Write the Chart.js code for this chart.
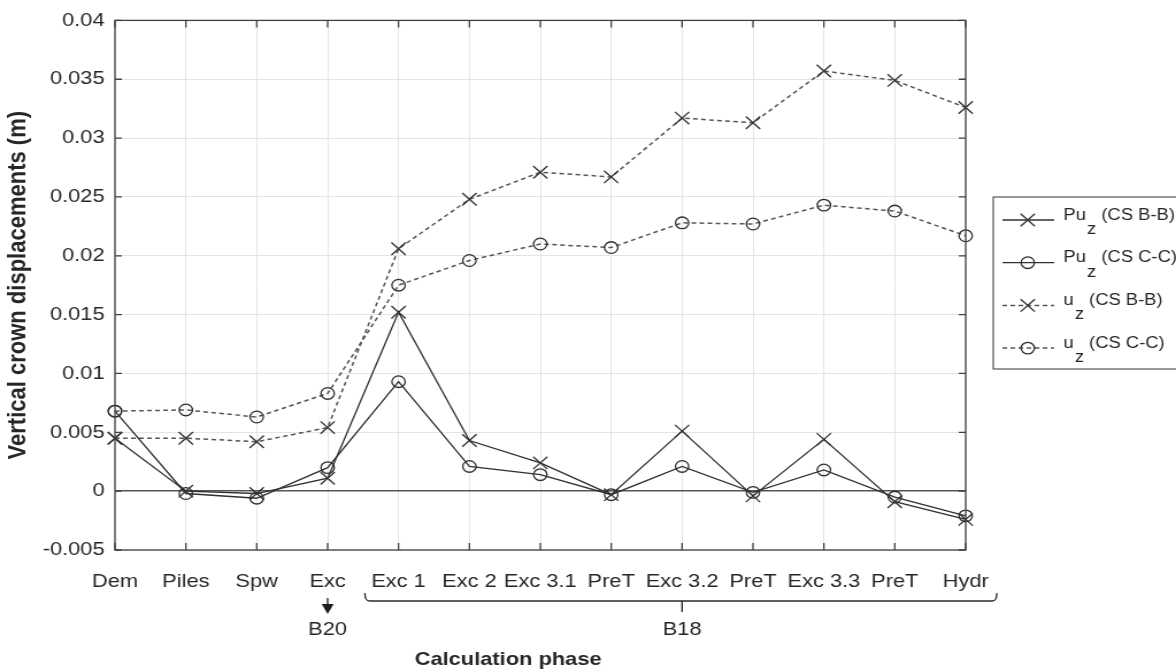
<!DOCTYPE html>
<html lang="en">
<head>
    <meta charset="UTF-8">
    <title>Vertical crown displacements</title>
    <script src="https://cdn.jsdelivr.net/npm/chart.js"></script>
    <style>
        body { margin: 0; background: #fff; overflow: hidden; }
        /* the reference figure is stretched horizontally, so draw narrower and scale */
        #wrap { width: 1023px; height: 669px; transform: scaleX(1.1496); transform-origin: 0 0; }
    </style>
</head>
<body>
    <div id="wrap">
        <canvas id="crownChart" width="1023" height="669"></canvas>
    </div>

    <script>
        const phases = ['Dem', 'Piles', 'Spw', 'Exc', 'Exc 1', 'Exc 2', 'Exc 3.1', 'PreT', 'Exc 3.2', 'PreT', 'Exc 3.3', 'PreT', 'Hydr'];

        const puzBB = [0.0045, 0.0000, -0.0002, 0.0011, 0.0152, 0.0043, 0.0024, -0.0003, 0.0051, -0.0004, 0.0044, -0.0009, -0.0024];
        const puzCC = [0.0068, -0.0002, -0.0006, 0.0020, 0.0093, 0.0021, 0.0014, -0.0003, 0.0021, -0.0001, 0.0018, -0.0005, -0.0021];
        const uzBB = [0.0045, 0.0045, 0.0042, 0.0054, 0.0206, 0.0248, 0.0271, 0.0267, 0.0317, 0.0313, 0.0357, 0.0349, 0.0326];
        const uzCC = [0.0068, 0.0069, 0.0063, 0.0083, 0.0175, 0.0196, 0.0210, 0.0207, 0.0228, 0.0227, 0.0243, 0.0238, 0.0217];

        const yTicks = [-0.005, 0, 0.005, 0.01, 0.015, 0.02, 0.025, 0.03, 0.035, 0.04];
        const yTickLabels = ['-0.005', '0', '0.005', '0.01', '0.015', '0.02', '0.025', '0.03', '0.035', '0.04'];

        const legendItems = [
            { main: 'Pu', rest: ' (CS B-B)', style: 'crossRot', dash: [] },
            { main: 'Pu', rest: ' (CS C-C)', style: 'circle', dash: [] },
            { main: 'u', rest: ' (CS B-B)', style: 'crossRot', dash: [4, 3] },
            { main: 'u', rest: ' (CS C-C)', style: 'circle', dash: [4, 3] }
        ];

        const FONT = '"Liberation Sans", Arial, sans-serif';
        const SOLID = '#303030';
        const DASHED = '#555555';

        function drawMarker(ctx, style, cx, cy) {
            ctx.beginPath();
            if (style === 'circle') {
                ctx.arc(cx, cy, 5.8, 0, Math.PI * 2);
            } else {
                const d = 6.2;
                ctx.moveTo(cx - d, cy - d); ctx.lineTo(cx + d, cy + d);
                ctx.moveTo(cx + d, cy - d); ctx.lineTo(cx - d, cy + d);
            }
            ctx.stroke();
        }

        // frame, inward ticks, bracket annotations, titles and legend
        const annotate = {
            id: 'annotate',
            afterDraw(chart) {
                const { ctx, chartArea: a, scales: { x, y } } = chart;
                ctx.save();

                ctx.strokeStyle = '#404040';
                ctx.lineWidth = 1.3;
                ctx.setLineDash([]);
                ctx.strokeRect(a.left, a.top, a.right - a.left, a.bottom - a.top);
                ctx.beginPath();
                phases.forEach((p, i) => {
                    const px = x.getPixelForValue(i);
                    ctx.moveTo(px, a.bottom); ctx.lineTo(px, a.bottom - 7);
                    ctx.moveTo(px, a.top); ctx.lineTo(px, a.top + 7);
                });
                yTicks.forEach(v => {
                    const py = y.getPixelForValue(v);
                    ctx.moveTo(a.left, py); ctx.lineTo(a.left + 6, py);
                    ctx.moveTo(a.right, py); ctx.lineTo(a.right - 6, py);
                });
                ctx.stroke();

                const step = x.getPixelForValue(1) - x.getPixelForValue(0);
                ctx.fillStyle = '#1e1e1e';
                ctx.strokeStyle = '#2a2a2a';

                // B20 arrow
                const ax = x.getPixelForValue(3);
                ctx.lineWidth = 1.4;
                ctx.beginPath();
                ctx.moveTo(ax, 598); ctx.lineTo(ax, 605);
                ctx.stroke();
                ctx.beginPath();
                ctx.moveTo(ax - 5.2, 604); ctx.lineTo(ax + 5.2, 604); ctx.lineTo(ax, 614);
                ctx.closePath();
                ctx.fill();

                // B18 bracket
                const bl = x.getPixelForValue(4) - 0.475 * step;
                const br = x.getPixelForValue(12) + 0.44 * step;
                const by = 601;
                ctx.lineWidth = 1.3;
                ctx.beginPath();
                ctx.moveTo(bl, by - 8);
                ctx.quadraticCurveTo(bl, by, bl + 4, by);
                ctx.lineTo(br - 4, by);
                ctx.quadraticCurveTo(br, by, br, by - 8);
                const bx = x.getPixelForValue(8);
                ctx.moveTo(bx, by); ctx.lineTo(bx, by + 11);
                ctx.stroke();

                ctx.fillStyle = '#262626';
                ctx.font = '19px ' + FONT;
                ctx.textAlign = 'center';
                ctx.textBaseline = 'middle';
                ctx.fillText('B20', ax, 630);
                ctx.fillText('B18', bx, 630);

                // axis titles
                ctx.font = 'bold 19px ' + FONT;
                ctx.textBaseline = 'alphabetic';
                ctx.fillText('Calculation phase', 442, 665);
                ctx.save();
                ctx.translate(16, (a.top + a.bottom) / 2);
                ctx.rotate(-Math.PI / 2);
                ctx.font = 'bold 22px ' + FONT;
                ctx.textBaseline = 'middle';
                ctx.fillText('Vertical crown displacements (m)', 0, 0);
                ctx.restore();

                // legend box
                const lx = 864;
                ctx.fillStyle = '#fff';
                ctx.fillRect(lx, 197, 200, 172);
                ctx.strokeStyle = '#555';
                ctx.lineWidth = 1.2;
                ctx.strokeRect(lx, 197, 200, 172);
                legendItems.forEach((it, i) => {
                    const ry = 220 + i * 42.7;
                    ctx.strokeStyle = it.dash.length ? DASHED : SOLID;
                    ctx.lineWidth = it.dash.length ? 1.5 : 1.3;
                    ctx.setLineDash(it.dash);
                    ctx.beginPath();
                    ctx.moveTo(lx + 8, ry); ctx.lineTo(lx + 53, ry);
                    ctx.stroke();
                    ctx.setLineDash([]);
                    ctx.strokeStyle = SOLID;
                    ctx.lineWidth = 1.3;
                    drawMarker(ctx, it.style, lx + 30, ry);

                    ctx.fillStyle = '#262626';
                    ctx.textAlign = 'left';
                    ctx.textBaseline = 'alphabetic';
                    ctx.font = '16px ' + FONT;
                    let tx = lx + 61;
                    ctx.fillText(it.main, tx, ry - 0.5);
                    tx += ctx.measureText(it.main).width + 1;
                    ctx.fillText('z', tx, ry + 14);
                    tx += ctx.measureText('z').width;
                    ctx.fillText(it.rest, tx, ry - 0.5);
                });

                ctx.restore();
            }
        };

        function lineSet(label, data, style, dashed) {
            return {
                label: label,
                data: data,
                borderColor: dashed ? DASHED : SOLID,
                borderWidth: dashed ? 1.5 : 1.3,
                borderDash: dashed ? [4, 3] : [],
                pointStyle: style,
                pointRadius: style === 'circle' ? 5.8 : 8.8,
                pointHoverRadius: style === 'circle' ? 5.8 : 8.8,
                pointBorderColor: SOLID,
                pointBorderWidth: 1.3,
                pointBackgroundColor: 'rgba(0,0,0,0)',
                backgroundColor: 'rgba(0,0,0,0)',
                tension: 0,
                fill: false,
                clip: false
            };
        }

        const ctx = document.getElementById('crownChart').getContext('2d');
        const chart = new Chart(ctx, {
            type: 'line',
            data: {
                labels: phases,
                datasets: [
                    lineSet('Pu_z (CS B-B)', puzBB, 'crossRot', false),
                    lineSet('Pu_z (CS C-C)', puzCC, 'circle', false),
                    lineSet('u_z (CS B-B)', uzBB, 'crossRot', true),
                    lineSet('u_z (CS C-C)', uzCC, 'circle', true)
                ]
            },
            options: {
                responsive: false,
                devicePixelRatio: 1,
                animation: false,
                layout: { padding: { top: 18.3, right: 183, bottom: 0, left: 0 } },
                plugins: {
                    legend: { display: false },
                    tooltip: { enabled: false }
                },
                scales: {
                    x: {
                        type: 'category',
                        offset: false,
                        border: { display: false },
                        grid: { color: '#e4e4e4', lineWidth: 1, drawTicks: false, offset: false },
                        ticks: {
                            autoSkip: false,
                            maxRotation: 0,
                            padding: 20,
                            color: '#262626',
                            font: { family: FONT, size: 19 }
                        },
                        afterFit: (scale) => { scale.height = 119; }
                    },
                    y: {
                        min: -0.005,
                        max: 0.04,
                        border: { display: false },
                        grid: {
                            drawTicks: false,
                            color: (c) => c.tick && c.tick.value === 0 ? '#555' : '#e4e4e4',
                            lineWidth: (c) => c.tick && c.tick.value === 0 ? 1.6 : 1
                        },
                        afterBuildTicks: (scale) => { scale.ticks = yTicks.map(v => ({ value: v })); },
                        ticks: {
                            padding: 9,
                            color: '#262626',
                            font: { family: FONT, size: 19 },
                            callback: (value, index) => yTickLabels[index]
                        },
                        afterFit: (scale) => { scale.width = 100; }
                    }
                }
            },
            plugins: [annotate]
        });
    </script>
</body>
</html>
